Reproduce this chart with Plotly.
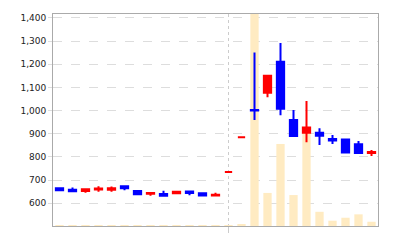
import plotly.graph_objects as go

days = list(range(25))
opens  = [665, 658, 653, 659, 658, 674, 653, 641, 640, 643, 651, 643, 634, 735, 885,
          1003, 1077, 1211, 960, 904, 905, 878, 875, 855, 817]
highs  = [666, 668, 662, 674, 673, 675, 654, 645, 654, 652, 652, 645, 646, 735, 885,
          1251, 1152, 1292, 1003, 1042, 924, 895, 876, 869, 830]
lows   = [655, 651, 646, 650, 650, 656, 638, 633, 632, 642, 635, 633, 633, 735, 885,
          960, 1058, 980, 889, 864, 852, 856, 818, 816, 804]
closes = [656, 652, 661, 664, 665, 665, 639, 644, 633, 650, 644, 634, 637, 735, 885,
          1000, 1151, 1008, 890, 927, 892, 871, 819, 817, 821]
volumes = [2, 2, 2, 2, 2, 2, 3, 2, 2, 3, 2, 2, 2, 1, 5,
           1400, 156, 387, 146, 448, 67, 25, 39, 55, 20]
price_ticks = [600, 700, 800, 900, 1000, 1100, 1200, 1300, 1400]
divider_day = [13]

fig = go.Figure()
fig.add_trace(go.Bar(x=days, y=volumes, width=0.64, marker=dict(color="#FFEBC2", line=dict(width=0)),
                     yaxis="y", showlegend=False, hoverinfo="skip"))
fig.add_trace(go.Candlestick(
    x=days, open=opens, high=highs, low=lows, close=closes, yaxis="y2",
    increasing=dict(line=dict(color="#FF0000", width=2), fillcolor="#FF0000"),
    decreasing=dict(line=dict(color="#0000FF", width=2), fillcolor="#0000FF"),
    whiskerwidth=0, showlegend=False))

fig.update_layout(
    width=400, height=240,
    margin=dict(l=53, r=22, t=14, b=14),
    paper_bgcolor="white", plot_bgcolor="white",
    boxgap=0.2,
    font=dict(family="DejaVu Sans", size=9, color="#222"),
    xaxis=dict(range=[-0.5, 24.5], tickvals=divider_day, ticktext=[""], automargin=False,
               showgrid=True, gridcolor="#cccccc", griddash="dot", gridwidth=1,
               ticks="outside", ticklen=6, tickcolor="#cccccc",
               showline=True, linecolor="#aaaaaa", linewidth=1, mirror=True,
               rangeslider=dict(visible=False), zeroline=False),
    yaxis=dict(range=[0, 1000], visible=False, showgrid=False, fixedrange=True, automargin=False),
    yaxis2=dict(range=[502, 1417], overlaying="y", side="left", automargin=False,
                tickvals=price_ticks, tickformat=",",
                showgrid=True, gridcolor="#dddddd", griddash="dash", gridwidth=1,
                ticks="outside", ticklen=4, tickcolor="#dddddd",
                showline=True, linecolor="#aaaaaa", linewidth=1, mirror=True,
                zeroline=False),
)
fig.write_html("out.html")
